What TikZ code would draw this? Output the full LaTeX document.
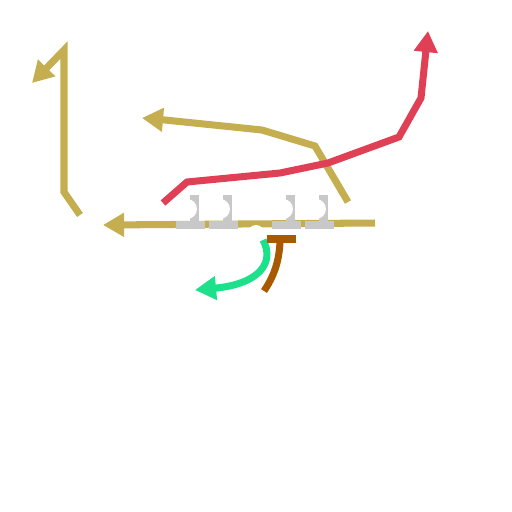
\documentclass[tikz,border=0pt]{standalone}
\usepackage{xcolor}
\usepackage{tikz}
\usetikzlibrary{arrows.meta}
\definecolor{routegold}{RGB}{196,174,79}
\definecolor{routered}{RGB}{224,64,85}
\definecolor{routegreen}{RGB}{29,224,138}
\definecolor{routebrown}{RGB}{168,90,0}
\definecolor{stancegray}{RGB}{200,200,200}
\newcommand{\routetip}{-{Triangle[length=12pt,width=13pt]}}
\tikzset{
  route/.style={line width=4pt},
  lineman/.style={fill=stancegray,draw=none},
}

\begin{document}
\begin{tikzpicture}[x=0.02cm,y=-0.02cm]
		\useasboundingbox (0,0) rectangle (512,512);
		% routes
		\draw[route,routegold,\routetip] (80,215) -- (64,192) -- (64,50) -- (32,83);
		\draw[route,routegold,\routetip] (375,223) -- (103,225);
		\draw[route,routegold,\routetip] (348,202) -- (315,146) -- (262,130) -- (165,120) -- (142,118);
		\draw[route,routered,\routetip] (163,203) -- (187,182) -- (280,173) -- (328,163) -- (399,137) -- (421,98) -- (428,31);
		\draw[route,routegreen,\routetip] (263,240) .. controls (275,262) and (260,284) .. (195,290);
		\draw[route,routebrown] (280,242) .. controls (279,262) and (274,276) .. (264,291);
		\draw[route,routebrown] (267,239) -- (296,239);
		% line
		\foreach \cx in {191,224,287,320} {
			\fill[lineman] (\cx-0.5,195) rectangle (\cx+8,222);
			\fill[lineman] (\cx-14.5,220.5) rectangle (\cx+14.5,228.5);
			\fill[white] (\cx-4,209) circle (10);
		}
		\fill[white] (256,233) circle (8);
		\end{tikzpicture}
\end{document}
